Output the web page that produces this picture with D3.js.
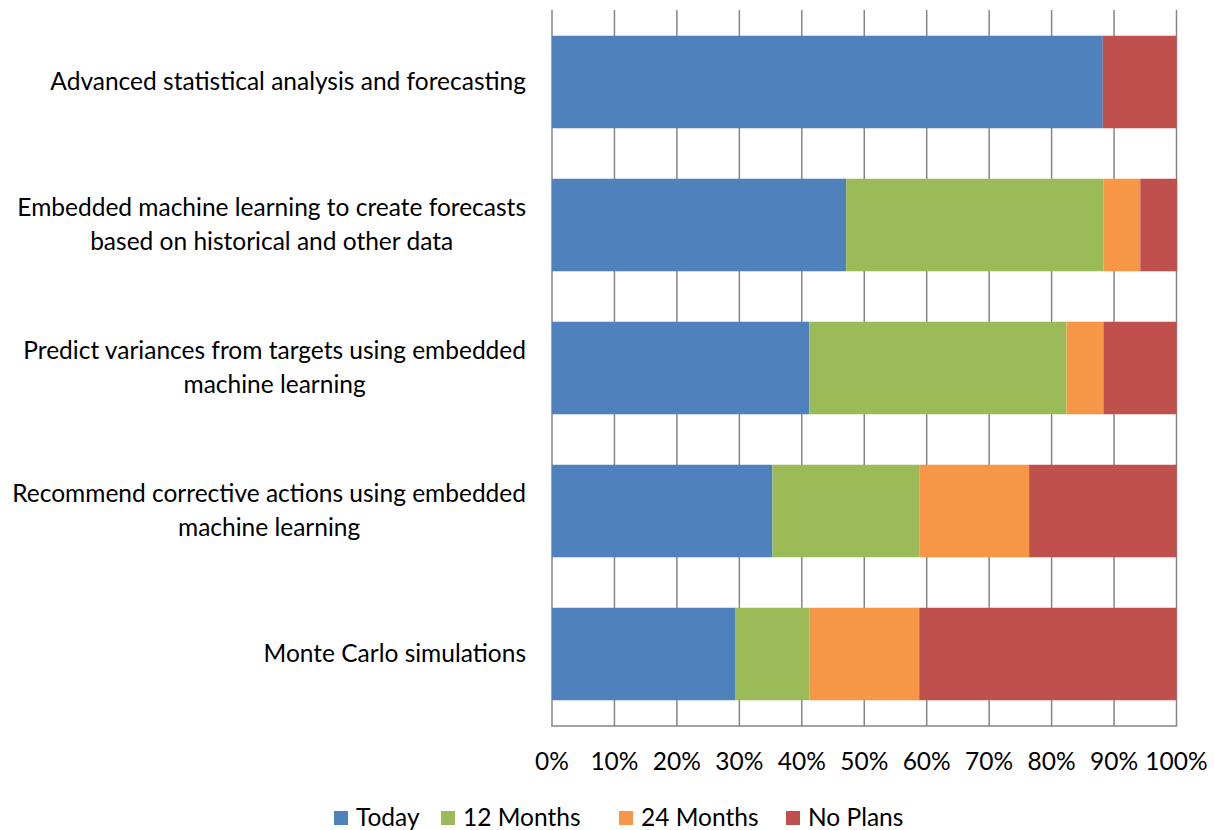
<!DOCTYPE html>
<html>
<head>
<meta charset="utf-8">
<script src="https://cdn.jsdelivr.net/npm/d3@7"></script>
<style>
  html, body { margin: 0; padding: 0; background: #fff; }
  svg { display: block; }
  text { font-family: Lato, "Open Sans", sans-serif; fill: #000; }
</style>
</head>
<body>
<svg id="chart" width="1214" height="830"></svg>
<script>
// ---- data (share of respondents, %) ----
const categories = [
  ["Advanced statistical analysis and forecasting"],
  ["Embedded machine learning to create forecasts", "based on historical and other data"],
  ["Predict variances from targets using embedded", "machine learning"],
  ["Recommend corrective actions using embedded", "machine learning"],
  ["Monte Carlo simulations"]
];
const seriesNames = ["Today", "12 Months", "24 Months", "No Plans"];
const today    = [88.2, 47.1, 41.2, 35.3, 29.4];
const months12 = [0.0, 41.2, 41.2, 23.5, 11.8];
const months24 = [0.0, 5.9, 5.9, 17.6, 17.6];
const noPlans  = [11.8, 5.9, 11.7, 23.6, 41.2];
const tickValues = [0, 10, 20, 30, 40, 50, 60, 70, 80, 90, 100];
const colors = ["#4F81BD", "#9BBB59", "#F79646", "#C0504D"];

const seriesValues = [today, months12, months24, noPlans];
const rows = categories.map((c, i) => {
  const r = { idx: i };
  seriesNames.forEach((s, j) => r[s] = seriesValues[j][i]);
  return r;
});

const svg = d3.select("#chart");
const margin = { left: 552, right: 1176.5, top: 10, bottom: 726 };

const x = d3.scaleLinear().domain([0, 100]).range([margin.left, margin.right]);
const y = d3.scaleBand().domain(d3.range(categories.length))
  .range([margin.top, margin.bottom]).paddingInner(0.353).paddingOuter(0.18);

const stack = d3.stack().keys(seriesNames);
const stacked = stack(rows);

// gridlines (vertical)
svg.append("g").selectAll("line").data(tickValues).join("line")
  .attr("x1", d => x(d)).attr("x2", d => x(d))
  .attr("y1", margin.top).attr("y2", margin.bottom)
  .attr("stroke", "#868686").attr("stroke-width", 1.5);

// bars
svg.append("g").selectAll("g").data(stacked).join("g")
  .attr("fill", (d, i) => colors[i])
  .selectAll("rect").data(d => d).join("rect")
  .attr("x", d => x(d[0]))
  .attr("width", d => Math.max(0, x(d[1]) - x(d[0])))
  .attr("y", (d, i) => y(i))
  .attr("height", y.bandwidth());

// bottom axis line
svg.append("line")
  .attr("x1", margin.left - 0.75).attr("x2", margin.right + 0.75)
  .attr("y1", margin.bottom).attr("y2", margin.bottom)
  .attr("stroke", "#868686").attr("stroke-width", 1.5);

// x tick labels
svg.append("g").selectAll("text").data(tickValues).join("text")
  .attr("x", d => x(d)).attr("y", 770)
  .attr("text-anchor", "middle")
  .style("font-size", "24.5px")
  .text(d => d + "%");

// category labels: centered block, right edge at 526
const fontSize = 24.5, lineH = 34;
categories.forEach((lines, i) => {
  const g = svg.append("g");
  const cy = y(i) + y.bandwidth() / 2;
  const n = lines.length;
  const texts = lines.map((ln, k) => g.append("text")
    .attr("text-anchor", "middle")
    .attr("y", cy + (k - (n - 1) / 2) * lineH + 8)
    .style("font-size", fontSize + "px")
    .text(ln));
  const maxW = d3.max(texts, t => t.node().getComputedTextLength());
  const cx = 526 - maxW / 2;
  texts.forEach(t => t.attr("x", cx));
});

// legend
const legendX = [334, 441, 619, 786];
const lg = svg.append("g");
seriesNames.forEach((s, i) => {
  lg.append("rect").attr("x", legendX[i]).attr("y", 811).attr("width", 14).attr("height", 14)
    .attr("fill", colors[i]);
  lg.append("text").attr("x", legendX[i] + 22).attr("y", 826)
    .style("font-size", "24.5px").text(s);
});
</script>
</body>
</html>
